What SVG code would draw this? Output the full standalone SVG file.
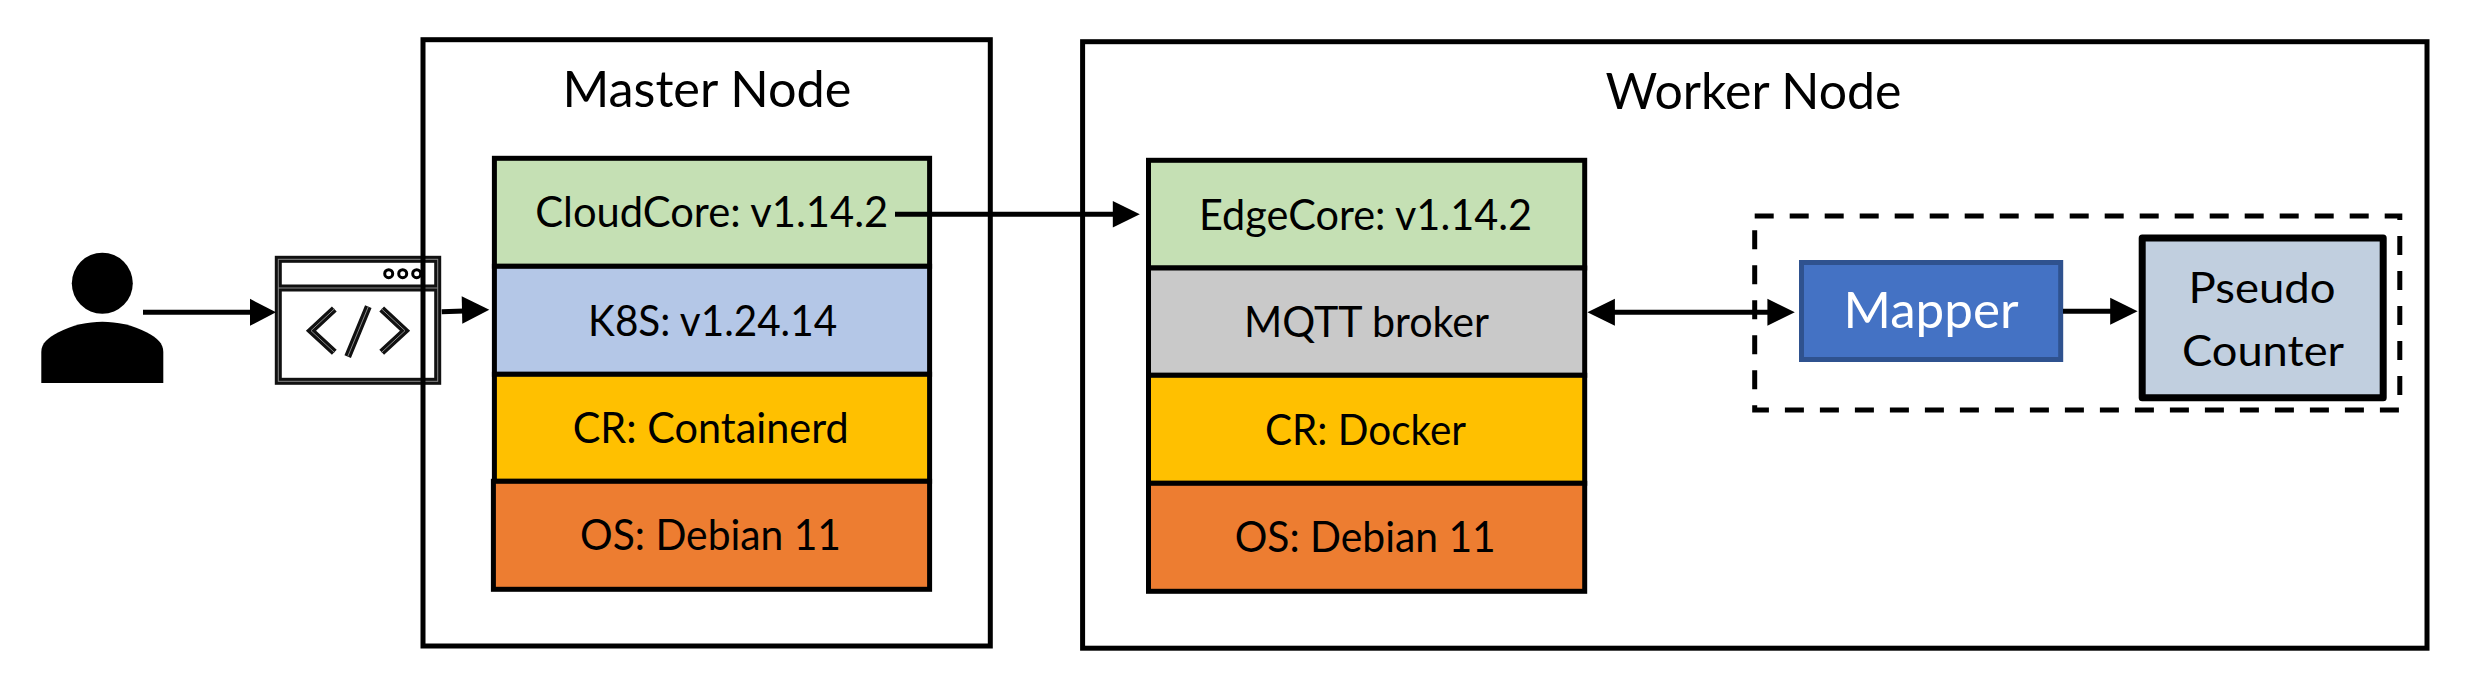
<svg xmlns="http://www.w3.org/2000/svg" width="2469" height="685" viewBox="0 0 2469 685">
<style>
text{font-family:"Lato","Liberation Sans",sans-serif;fill:#000;font-size:43px}
.big{font-size:50px}
.box{fill:none;stroke:#000;stroke-width:5}
.layer{stroke:#000;stroke-width:5}
.line{fill:none;stroke:#000;stroke-width:5}
.head{fill:#000}
.ic{fill:none;stroke:#111;stroke-width:7}
.icg{fill:none;stroke:#8a8a8a;stroke-width:1}
</style>
<rect width="2469" height="685" fill="#fff"/>
<g id="user">
<circle cx="102.3" cy="283.3" r="30.5"/>
<path d="M41.3 383V352C41.3 343 48 338 58 332.5C72 325 88 321.7 102.3 321.7C117 321.7 133 325 147 332.5C157 338 163.3 343 163.3 352V383Z"/>
</g>
<g id="browser">
<rect x="278.3" y="259.3" width="159.4" height="122" fill="#fff" class="ic"/>
<path class="ic" d="M278.3 288H437.7"/>
<circle cx="388.7" cy="273.7" r="4" fill="none" stroke="#000" stroke-width="3"/>
<circle cx="402.7" cy="273.7" r="4" fill="none" stroke="#000" stroke-width="3"/>
<circle cx="416.7" cy="273.7" r="4" fill="none" stroke="#000" stroke-width="3"/>
<path class="ic" d="M334.3 309L311 330.7L334.3 352.3M368.3 306.7L347.7 356.7M381.7 309L405 330.7L381.7 352.3"/>
<rect x="278.3" y="259.3" width="159.4" height="122" class="icg"/>
<path class="icg" d="M278.3 288H437.7M334.3 309L311 330.7L334.3 352.3M368.3 306.7L347.7 356.7M381.7 309L405 330.7L381.7 352.3"/>
</g>
<g id="master-node">
<rect class="box" x="423" y="39.7" width="567.3" height="606.3"/>
<text class="big" x="706.9" y="107.3" text-anchor="middle" textLength="289" lengthAdjust="spacingAndGlyphs">Master Node</text>
</g>
<g id="cloudcore"><rect class="layer" x="494.4" y="158.3" width="435.2" height="108" fill="#c5e0b4"/>
<text x="711.7" y="227.3" text-anchor="middle" textLength="353" lengthAdjust="spacingAndGlyphs">CloudCore: v1.14.2</text></g>
<g id="k8s"><rect class="layer" x="494.4" y="266.3" width="435.2" height="108" fill="#b4c7e7"/>
<text x="712.6" y="336" text-anchor="middle" textLength="249" lengthAdjust="spacingAndGlyphs">K8S: v1.24.14</text></g>
<g id="cr-containerd"><rect class="layer" x="494.4" y="374.3" width="435.2" height="107" fill="#ffc000"/>
<text x="710.7" y="442.7" text-anchor="middle" textLength="276" lengthAdjust="spacingAndGlyphs">CR: Containerd</text></g>
<g id="os-master"><rect class="layer" x="493.4" y="481.3" width="436.2" height="108" fill="#ed7d31"/>
<text x="710.5" y="550" text-anchor="middle" textLength="261" lengthAdjust="spacingAndGlyphs">OS: Debian 11</text></g>
<g id="worker-node">
<rect class="box" x="1082.6" y="41.7" width="1344.4" height="606.5"/>
<text class="big" x="1753.5" y="109" text-anchor="middle" textLength="296" lengthAdjust="spacingAndGlyphs">Worker Node</text>
</g>
<g id="edgecore"><rect class="layer" x="1148.5" y="160.3" width="436.2" height="107.7" fill="#c5e0b4"/>
<text x="1365.5" y="230" text-anchor="middle" textLength="333" lengthAdjust="spacingAndGlyphs">EdgeCore: v1.14.2</text></g>
<g id="mqtt"><rect class="layer" x="1148.5" y="268" width="436.2" height="107.3" fill="#c9c9c9"/>
<text x="1366.6" y="336.7" text-anchor="middle" textLength="245" lengthAdjust="spacingAndGlyphs">MQTT broker</text></g>
<g id="cr-docker"><rect class="layer" x="1148.5" y="375.3" width="436.2" height="108" fill="#ffc000"/>
<text x="1365.5" y="445" text-anchor="middle" textLength="201" lengthAdjust="spacingAndGlyphs">CR: Docker</text></g>
<g id="os-worker"><rect class="layer" x="1148.5" y="483.3" width="436.2" height="108" fill="#ed7d31"/>
<text x="1365.2" y="552.3" text-anchor="middle" textLength="261" lengthAdjust="spacingAndGlyphs">OS: Debian 11</text></g>
<g id="device-group"><rect x="1754.7" y="216" width="645.1" height="194" fill="none" stroke="#000" stroke-width="5" stroke-dasharray="19 16"/></g>
<g id="mapper"><rect x="1801.5" y="262.5" width="259.2" height="97" fill="#4472c4" stroke="#2f528f" stroke-width="5"/>
<text class="big" x="1931" y="328" text-anchor="middle" style="fill:#fff" textLength="175" lengthAdjust="spacingAndGlyphs">Mapper</text></g>
<g id="pseudo-counter"><rect x="2142.2" y="238" width="241" height="159.7" fill="#c1cfdf" stroke="#000" stroke-width="7" stroke-linejoin="round"/>
<text x="2262" y="303.3" text-anchor="middle" textLength="147" lengthAdjust="spacingAndGlyphs">Pseudo</text>
<text x="2263" y="365.7" text-anchor="middle" textLength="162" lengthAdjust="spacingAndGlyphs">Counter</text></g>
<g id="connectors">
<path class="line" d="M143 312.3H252"/><path class="head" d="M276 312.3L250 298.8V325.8Z"/>
<path class="line" d="M441.7 311.7L464 311"/><path class="head" d="M489.3 309.7L461.7 296.2L462.3 323.7Z"/>
<path class="line" d="M895 214.3H1115"/><path class="head" d="M1139.8 214.3L1112.8 201V227.6Z"/>
<path class="line" d="M1612 312.3H1770"/><path class="head" d="M1587.4 312.3L1614.9 298.8V325.8ZM1794.8 312.3L1767.4 298.8V325.8Z"/>
<path class="line" d="M2063 311.3H2112"/><path class="head" d="M2137.6 311.3L2110.2 297.8V324.8Z"/>
</g>
</svg>
